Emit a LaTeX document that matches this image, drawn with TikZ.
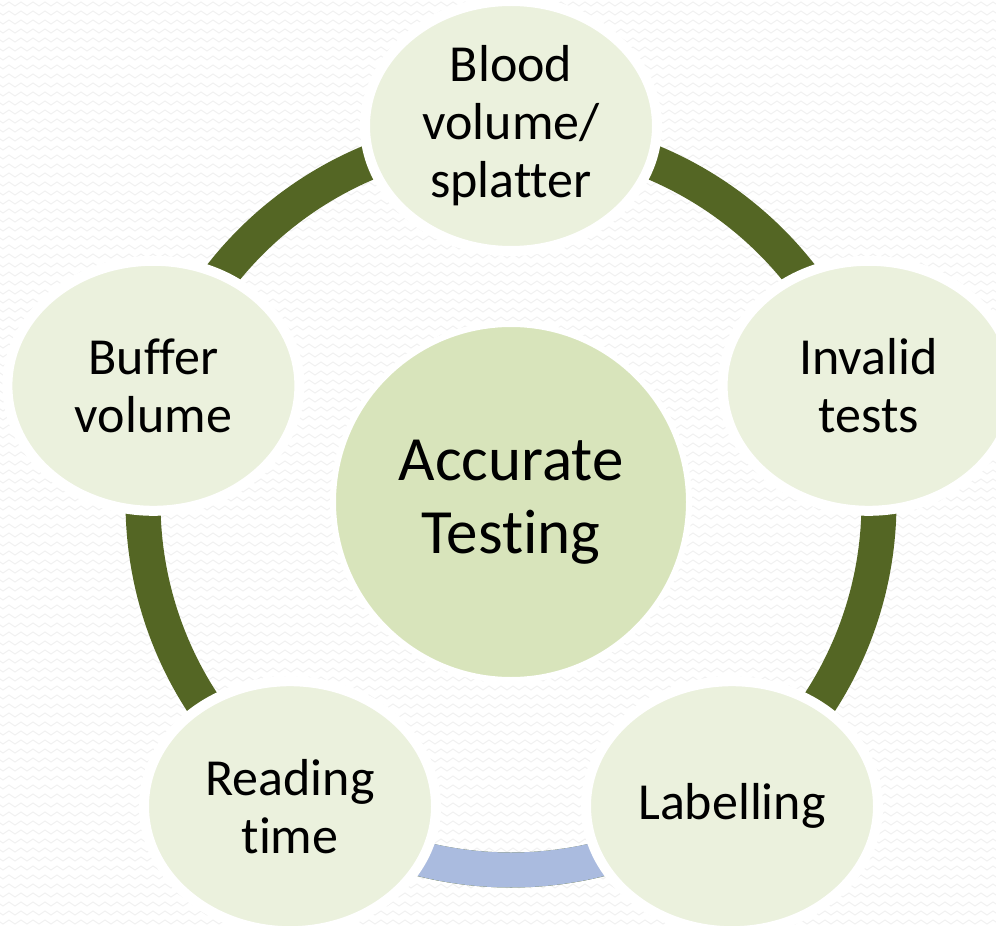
\documentclass[tikz,border=0pt]{standalone}
\usepackage{fontspec}
\setmainfont{Carlito}[Ligatures=NoCommon]
\usetikzlibrary{shapes.geometric,decorations.pathmorphing}
\definecolor{ringgreen}{RGB}{84,102,36}
\definecolor{ringblue}{RGB}{170,187,223}
\definecolor{stepfill}{RGB}{235,241,221}
\definecolor{hubfill}{RGB}{216,228,187}
\definecolor{wavegray}{RGB}{240,240,240}

\begin{document}
\begin{tikzpicture}[x=1pt,y=-1pt]
\useasboundingbox (0,0) rectangle (996,928);
\clip (0,0) rectangle (996,928);
\fill[white] (0,0) rectangle (996,928);

\tikzset{WaveStyle/.style = {draw=wavegray, line width=0.9pt, decorate,
 decoration={zigzag, segment length=12pt, amplitude=2pt}} }

\foreach \y in {4,13,...,928} \draw[WaveStyle] (-6,\y) -- (1004,\y);

\coordinate (C_0) at (511, 502);
\coordinate (C_1) at (511, 126);
\coordinate (C_2) at (868.6, 385.8);
\coordinate (C_3) at (732, 806.2);
\coordinate (C_4) at (290, 806.2);
\coordinate (C_5) at (153.4, 385.8);


\tikzset{RingStyle/.style = {line width=35pt} }

\draw[RingStyle, draw=ringgreen] (C_0) circle (368);
\draw[RingStyle, draw=ringblue] ([shift={(54:368)}]C_0) arc[start angle=54, end angle=126, radius=368];



\tikzset{StepStyle/.style = {
 shape = ellipse,
 fill = stepfill,
 draw = white,
 line width = 10pt,
 text = black,
 inner sep = 0pt,
 minimum width = 292pt,
 minimum height = 250pt,
 align = center,
 font = \fontsize{52}{58}\selectfont} }

\tikzset{HubStyle/.style = {
 shape = circle,
 fill = hubfill,
 draw = white,
 line width = 6pt,
 text = black,
 inner sep = 0pt,
 minimum size = 356pt,
 align = center,
 font = \fontsize{63}{73}\selectfont} }

\node[HubStyle] (Accurate) at (C_0) {Accurate\\Testing};
\node[StepStyle] (Blood) at (C_1) {Blood\\volume/\\splatter};
\node[StepStyle] (Invalid) at (C_2) {Invalid\\tests};
\node[StepStyle] (Labelling) at (C_3) {Labelling};
\node[StepStyle] (Reading) at (C_4) {Reading\\time};
\node[StepStyle] (Buffer) at (C_5) {Buffer\\volume};

\end{tikzpicture}
\end{document}
